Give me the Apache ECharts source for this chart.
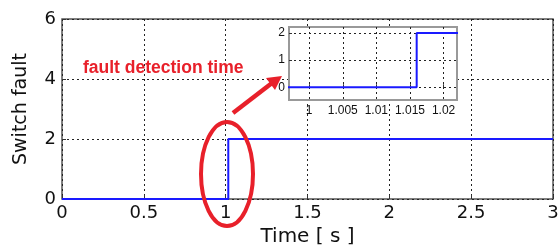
<!DOCTYPE html>
<html>
<head>
<meta charset="utf-8">
<script src="https://cdn.jsdelivr.net/npm/echarts@6/dist/echarts.min.js"></script>
<style>
  html, body { margin: 0; padding: 0; background: #fff; }
  #chart { width: 559px; height: 246px; }
</style>
</head>
<body>
<div id="chart"></div>
<script>
// step signal: switch fault index vs time
const times = [0, 1.016, 1.016, 3]
const faultValues = [0, 0, 2, 2]

const mainYTicks = [0, 2, 4, 6]
const zoomXTicks = [1, 1.005, 1.01, 1.015, 1.02]
const zoomYTicks = [0, 1, 2]

const annotationText = 'fault detection time'
const xName = 'Time [ s ]'
const yName = 'Switch fault'

const points = times.map((t, i) => [t, faultValues[i]])

const dotted = { type: [2, 3], color: '#222', width: 1 }
const red = '#e8202a'
const blue = '#1a1aff'
const labelFont = 'DejaVu Sans'

const chart = echarts.init(document.getElementById('chart'))

chart.setOption({
  animation: false,
  grid: [
    {
      left: 62, top: 19, width: 491, height: 180, outerBoundsMode: 'none',
      show: true, borderColor: '#555', borderWidth: 1.5,
    },
    {
      // zoomed inset
      left: 289, top: 27, width: 168, height: 73, outerBoundsMode: 'none',
      show: true, backgroundColor: '#fff', borderColor: '#999', borderWidth: 2,
      z: 5,
    },
  ],
  xAxis: [
    {
      gridIndex: 0, type: 'value', min: 0, max: 3, interval: 0.5,
      name: xName, nameLocation: 'middle', nameGap: 26,
      nameTextStyle: { fontFamily: labelFont, fontSize: 20, color: '#111' },
      axisLine: { show: false },
      axisTick: { inside: true, length: 4, lineStyle: { color: '#333' } },
      axisLabel: { fontFamily: labelFont, fontSize: 18, color: '#111', margin: 5 },
      splitLine: { show: true, lineStyle: dotted },
    },
    {
      gridIndex: 1, type: 'value', min: 0.997, max: 1.022,
      axisLine: { show: false },
      axisTick: { inside: true, length: 3, customValues: zoomXTicks, lineStyle: { color: '#333' } },
      axisLabel: { fontFamily: 'Liberation Sans', fontSize: 12, color: '#111', margin: 5, customValues: zoomXTicks },
      splitLine: { show: true, lineStyle: dotted },
      z: 6,
    },
  ],
  yAxis: [
    {
      gridIndex: 0, type: 'value', min: 0, max: 6, interval: 2,
      name: yName, nameLocation: 'middle', nameGap: 31,
      nameTextStyle: { fontFamily: labelFont, fontSize: 19, color: '#111' },
      axisLine: { show: false },
      axisTick: { inside: true, length: 4, lineStyle: { color: '#333' } },
      axisLabel: { fontFamily: labelFont, fontSize: 18, color: '#111', margin: 6,
        customValues: mainYTicks },
      splitLine: { show: true, lineStyle: dotted },
    },
    {
      gridIndex: 1, type: 'value', min: -0.47, max: 2.22,
      axisLine: { show: false },
      axisTick: { inside: true, length: 3, customValues: zoomYTicks, lineStyle: { color: '#333' } },
      axisLabel: { fontFamily: 'Liberation Sans', fontSize: 12, color: '#111', margin: 4, customValues: zoomYTicks },
      splitLine: { show: true, lineStyle: dotted },
      z: 6,
    },
  ],
  series: [
    {
      type: 'line', xAxisIndex: 0, yAxisIndex: 0, data: points,
      showSymbol: false, lineStyle: { color: blue, width: 2 }, z: 3,
    },
    {
      type: 'line', xAxisIndex: 1, yAxisIndex: 1, data: points,
      showSymbol: false, lineStyle: { color: blue, width: 2 }, z: 7,
    },
  ],
  graphic: [
    {
      type: 'text', left: 83, top: 59, z: 10,
      style: { text: annotationText, fill: red, font: 'bold 17.5px "Liberation Sans"' },
    },
    {
      type: 'ellipse', z: 10,
      shape: { cx: 227, cy: 174, rx: 26, ry: 52 },
      style: { fill: 'none', stroke: red, lineWidth: 4 },
    },
    {
      type: 'line', z: 10,
      shape: { x1: 233, y1: 113, x2: 272, y2: 83 },
      style: { stroke: red, lineWidth: 4.5 },
    },
    {
      type: 'polygon', z: 10,
      shape: { points: [[282, 76], [275, 90], [266, 78]] },
      style: { fill: red },
    },
  ],
})
</script>
</body>
</html>
